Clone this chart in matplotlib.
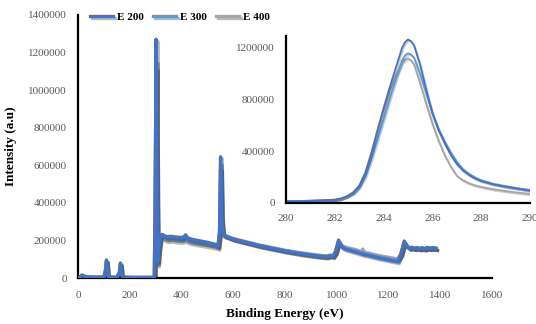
import matplotlib
matplotlib.use("Agg")
import matplotlib.pyplot as plt
import matplotlib.patheffects as pe

plt.rcParams['font.family'] = ['Liberation Serif', 'DejaVu Serif']

# ---- survey spectra (binding energy in eV, intensity in a.u.) ----
survey_energy = [0, 8, 15, 22, 30, 60, 100, 106, 110, 114, 120, 150, 160, 164, 168, 175,
                 220, 290, 295, 298, 302, 305, 308, 312, 318, 326, 335, 345, 360, 380,
                 400, 410, 416, 422, 440, 470, 500, 530, 541, 547, 551, 555, 560, 566,
                 576, 600, 650, 700, 750, 800, 850, 900, 940, 960, 975, 985, 995, 1007,
                 1014, 1023, 1040, 1070, 1098, 1100, 1102, 1130, 1160, 1200, 1235, 1248,
                 1261, 1268, 1280, 1290, 1300, 1310, 1320, 1330, 1340, 1350, 1360, 1370, 1383]

survey_e200 = [0, 6000, 16000, 12000, 6000, 5000, 5000, 40000, 96000, 30000, 5000, 4000, 30000,
               80000, 25000, 4000, 3000, 3000, 5000, 400000, 1271000, 420000, 90000, 160000,
               228000, 232000, 224000, 220000, 222000, 218000, 216000, 220000, 230000, 214000,
               206000, 198000, 190000, 180000, 172000, 250000, 645000, 330000, 238000, 228000,
               220000, 207000, 190000, 172000, 158000, 144000, 132000, 122000, 115000, 113000,
               118000, 114000, 140000, 202000, 176000, 160000, 152000, 140000, 128000, 129000,
               127000, 118000, 108000, 97000, 87000, 130000, 197000, 172000, 158000, 164000,
               156000, 162000, 155000, 161000, 154000, 163000, 157000, 162000, 158000]

survey_e300 = [0, 5000, 14000, 11000, 5000, 4000, 4000, 38000, 92000, 28000, 4000, 4000, 28000,
               76000, 24000, 4000, 3000, 3000, 5000, 380000, 1155000, 400000, 80000, 150000,
               218000, 222000, 214000, 210000, 212000, 208000, 206000, 210000, 216000, 204000,
               196000, 189000, 182000, 173000, 166000, 240000, 610000, 310000, 233000, 226000,
               221000, 208000, 191000, 174000, 160000, 146000, 134000, 124000, 117000, 115000,
               120000, 117000, 138000, 196000, 178000, 165000, 157000, 146000, 134000, 136000,
               133000, 124000, 114000, 103000, 94000, 128000, 192000, 175000, 160000, 162000,
               158000, 160000, 157000, 159000, 156000, 161000, 158000, 160000, 158000]

survey_e400 = [0, 5000, 13000, 10000, 5000, 4000, 4000, 36000, 90000, 27000, 3000, 3000, 26000,
               74000, 22000, 3000, 3000, 3000, 4000, 360000, 1115000, 380000, 70000, 140000,
               208000, 212000, 204000, 200000, 202000, 198000, 196000, 200000, 205000, 194000,
               187000, 180000, 173000, 165000, 159000, 230000, 580000, 300000, 229000, 224000,
               222000, 210000, 193000, 176000, 162000, 148000, 137000, 127000, 120000, 118000,
               122000, 120000, 136000, 190000, 180000, 170000, 162000, 152000, 140000, 154000,
               139000, 130000, 120000, 110000, 102000, 126000, 186000, 178000, 162000, 160000,
               160000, 158000, 159000, 157000, 158000, 159000, 159000, 158000, 158000]

# ---- C 1s high-resolution region ----
c1s_energy = [280, 280.5, 281, 281.5, 282, 282.25, 282.5, 282.75, 283, 283.25, 283.5, 283.75,
              284, 284.25, 284.5, 284.75, 284.875, 285, 285.125, 285.25, 285.5, 285.75, 286,
              286.25, 286.5, 286.75, 287, 287.25, 287.5, 287.75, 288, 288.5, 289, 289.5, 290]
c1s_e200 = [14000, 15000, 18000, 21000, 26000, 35000, 52000, 80000, 130000, 230000, 380000,
            560000, 730000, 890000, 1040000, 1190000, 1237000, 1258000, 1245000, 1212000,
            1060000, 870000, 690000, 560000, 460000, 370000, 300000, 250000, 215000, 188000,
            168000, 143000, 125000, 110000, 95000]
c1s_e300 = [13000, 14000, 17000, 20000, 24000, 32000, 48000, 72000, 118000, 205000, 340000,
            490000, 645000, 800000, 950000, 1095000, 1135000, 1152000, 1142000, 1118000,
            990000, 840000, 690000, 570000, 475000, 390000, 318000, 262000, 225000, 197000,
            176000, 148000, 130000, 114000, 100000]
c1s_e400 = [12000, 13000, 16000, 19000, 23000, 33000, 52000, 82000, 135000, 235000, 390000,
            560000, 720000, 860000, 980000, 1080000, 1103000, 1112000, 1098000, 1065000,
            920000, 760000, 610000, 480000, 370000, 280000, 210000, 175000, 152000, 136000,
            124000, 106000, 92000, 80000, 70000]

series_names = ["E 200", "E 300", "E 400"]
colors = ["#4472C4", "#5B9BD5", "#A5A5A5"]

main_xticks = [0, 200, 400, 600, 800, 1000, 1200, 1400, 1600]
main_yticks = [0, 200000, 400000, 600000, 800000, 1000000, 1200000, 1400000]
inset_xticks = [280, 282, 284, 286, 288, 290]
inset_yticks = [0, 400000, 800000, 1200000]

W, H = 536, 324
fig = plt.figure(figsize=(W / 100, H / 100), dpi=100)

tick_color = "#595959"
shadow = [pe.SimpleLineShadow(offset=(1.2, -1.5), shadow_color="black", alpha=0.28),
          pe.Normal()]


def frame(ax):
    for side in ("top", "right"):
        ax.spines[side].set_visible(False)
    for side in ("left", "bottom"):
        ax.spines[side].set_color("black")
        ax.spines[side].set_linewidth(1.6)
    ax.tick_params(length=0, colors=tick_color, labelsize=8)


# main survey axes
ax = fig.add_axes([78 / W, 1 - 278 / H, (492 - 78) / W, (278 - 15) / H])
frame(ax)
survey = [survey_e200, survey_e300, survey_e400]
handles = []
for i in (2, 1, 0):
    ln, = ax.plot(survey_energy, survey[i], color=colors[i], lw=2.4,
                  solid_joinstyle="round", path_effects=shadow, zorder=3 + (2 - i))
    handles.append(ln)
handles = handles[::-1]
ax.set_xlim(0, 1600)
ax.set_ylim(0, 1400000)
ax.set_xticks(main_xticks)
ax.set_xticklabels([str(v) for v in main_xticks])
ax.set_yticks(main_yticks)
ax.set_yticklabels([str(v) for v in main_yticks])
ax.tick_params(axis="x", pad=9)
ax.tick_params(axis="y", pad=8)
ax.set_xlabel("Binding Energy (eV)", fontsize=9.5, fontweight="bold", labelpad=6)
ax.set_ylabel("Intensity (a.u)", fontsize=9.5, fontweight="bold", labelpad=8)

# inset with the C 1s peak
ins = fig.add_axes([286 / W, 1 - 203 / H, (530 - 286) / W, (203 - 36) / H])
frame(ins)
c1s = [c1s_e200, c1s_e300, c1s_e400]
for i in (2, 1, 0):
    ins.plot(c1s_energy, c1s[i], color=colors[i], lw=1.3, solid_joinstyle="round",
             path_effects=[pe.SimpleLineShadow(offset=(0.8, -1.0), shadow_color="black",
                                               alpha=0.2), pe.Normal()])
ins.set_xlim(280, 290)
ins.set_ylim(0, 1285000)
ins.set_xticks(inset_xticks)
ins.set_xticklabels([str(v) for v in inset_xticks])
ins.set_yticks(inset_yticks)
ins.set_yticklabels([str(v) for v in inset_yticks])
ins.tick_params(axis="x", pad=8)
ins.tick_params(axis="y", pad=8)
ins.patch.set_alpha(0)

fig.legend(handles, series_names, loc="upper left", bbox_to_anchor=(80 / W, 1 - 2 / H),
           ncol=3, frameon=False, handlelength=2.1, handletextpad=0.35, columnspacing=0.8,
           prop={"weight": "bold", "size": 8})

fig.savefig("out.png", dpi=100)
